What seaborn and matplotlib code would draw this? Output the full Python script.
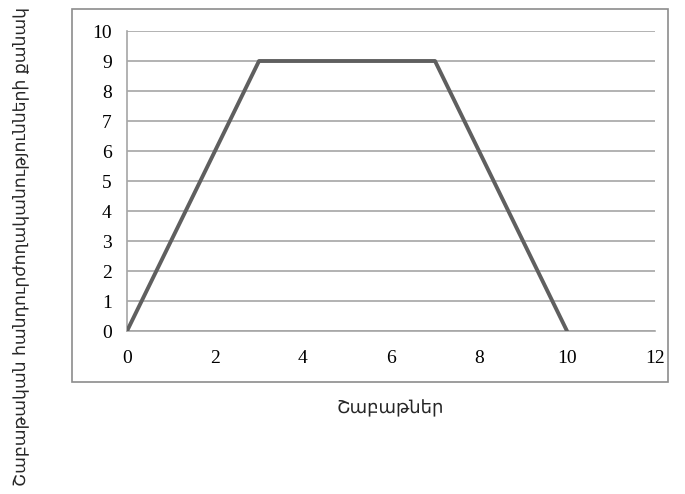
import matplotlib.pyplot as plt
import seaborn as sns
import pandas as pd

# data
weeks = [0, 3, 7, 10]
counts = [0, 9, 9, 0]
x_ticks = [0, 2, 4, 6, 8, 10, 12]
y_ticks = list(range(0, 11))
x_label = "Շաբաթներ"
y_label = "Շաբաթական հանդուրժողականությունների քանակ"

sns.set_style("white")
plt.rcParams['font.family'] = ['DejaVu Sans']

df = pd.DataFrame({'week': weeks, 'count': counts})

fig = plt.figure(figsize=(6.85, 4.94), dpi=100)
ax = fig.add_axes([127 / 685, 1 - 331 / 494, 528 / 685, 300 / 494])

sns.lineplot(data=df, x='week', y='count', ax=ax, color='#5f5f5f',
             linewidth=2.8, zorder=3)

ax.set_xlim(0, 12)
ax.set_ylim(0, 10)
ax.set_xticks(x_ticks)
ax.set_yticks(y_ticks)
ax.yaxis.grid(True, color='#a6a6a6', linewidth=1.2)
ax.set_axisbelow(True)

for side in ['top', 'right']:
    ax.spines[side].set_visible(False)
for side in ['left', 'bottom']:
    ax.spines[side].set_color('#a6a6a6')
    ax.spines[side].set_linewidth(1.2)

ax.tick_params(axis='both', colors='#a6a6a6', width=1.2, length=5,
               labelcolor='black', labelsize=14)
ax.tick_params(axis='y', pad=6)
ax.tick_params(axis='x', pad=9)
for lbl in ax.get_xticklabels() + ax.get_yticklabels():
    lbl.set_fontfamily('Liberation Serif')

ax.set_xlabel('')
ax.set_ylabel('')

# outer chart border
fig.add_artist(plt.Rectangle((72 / 685, 1 - 382 / 494), 596 / 685, 373 / 494,
                             transform=fig.transFigure, fill=False,
                             edgecolor='#8c8c8c', linewidth=1.2))

fig.text(390 / 685, 1 - 408 / 494, x_label, ha='center', va='center',
         fontsize=13)
fig.text(20 / 685, 0.5, y_label, ha='center', va='center', rotation=90,
         fontsize=12.4)

fig.savefig('out.png', dpi=100)
